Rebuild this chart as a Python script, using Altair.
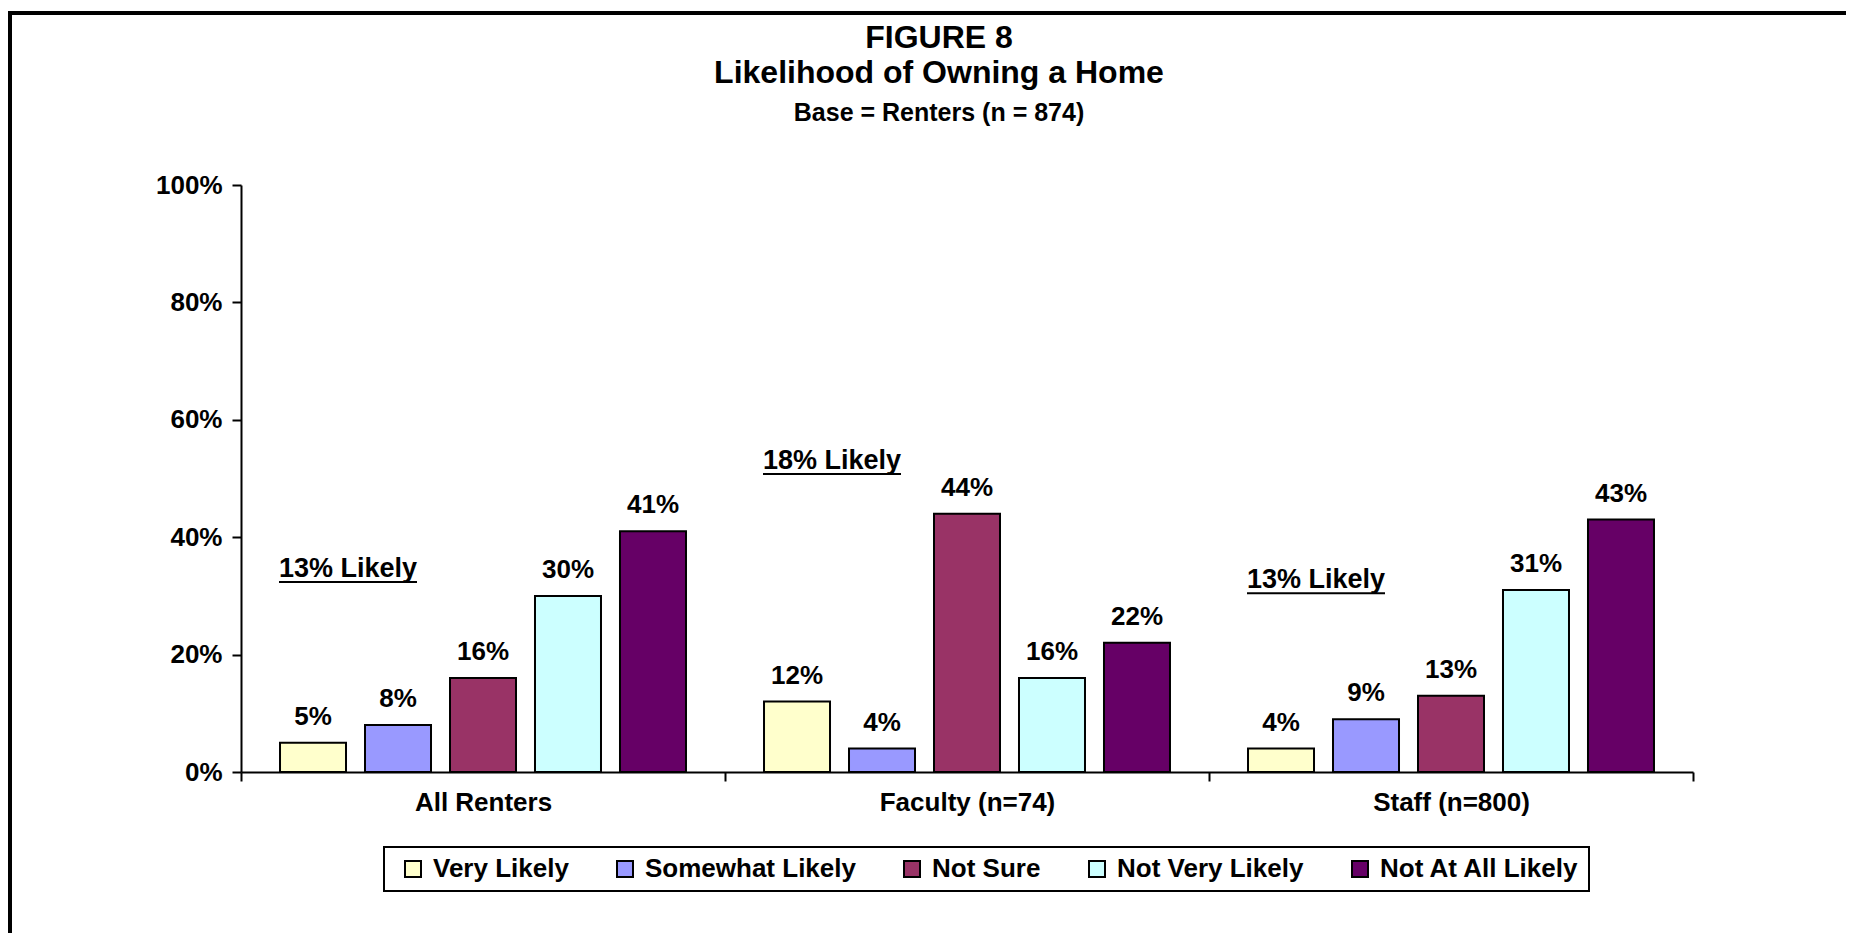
import altair as alt
import pandas as pd

groups = ["All Renters", "Faculty (n=74)", "Staff (n=800)"]
responses = ["Very Likely", "Somewhat Likely", "Not Sure", "Not Very Likely", "Not At All Likely"]
all_renters = [5, 8, 16, 30, 41]
faculty = [12, 4, 44, 16, 22]
staff = [4, 9, 13, 31, 43]
colors = ["#FFFFCC", "#9999FF", "#993366", "#CCFFFF", "#660066"]
likely_text = ["13% Likely", "18% Likely", "13% Likely"]
likely_anchor = [33.2, 51.6, 31.3]

rows = []
for g, vals in zip(groups, [all_renters, faculty, staff]):
    for r, v in zip(responses, vals):
        rows.append({"group": g, "response": r, "value": v, "label": f"{v}%"})
df = pd.DataFrame(rows)
ann = pd.DataFrame({"group": groups, "text": likely_text, "y": likely_anchor})

FONT = "Liberation Sans"
W, H = 1452, 587

x_axis = alt.Axis(title=None, labelAngle=0, tickBand="extent", tickSize=9, tickWidth=2,
                  tickColor="black", domainColor="black", domainWidth=2,
                  labelFontSize=26, labelFont=FONT, labelFontWeight="bold",
                  labelColor="black", labelPadding=8)
y_axis = alt.Axis(title=None, values=[0, 20, 40, 60, 80, 100], labelExpr="datum.value + '%'",
                  grid=False, tickSize=9, tickWidth=2, tickColor="black",
                  domainColor="black", domainWidth=2, labelFontSize=26, labelFont=FONT,
                  labelFontWeight="bold", labelColor="black", labelPadding=10)

x_main = alt.X("group:N", sort=groups, scale=alt.Scale(paddingInner=0, paddingOuter=0), axis=x_axis)
x_plain = alt.X("group:N", sort=groups)
x_off = alt.XOffset("response:N", sort=responses,
                    scale=alt.Scale(paddingInner=0.2235, paddingOuter=0.459))
y_main = alt.Y("value:Q", scale=alt.Scale(domain=[0, 100]), axis=y_axis)

bars = alt.Chart(df).mark_bar(stroke="black", strokeWidth=2).encode(
    x=x_main,
    xOffset=x_off,
    y=y_main,
    color=alt.Color("response:N", sort=responses,
                    scale=alt.Scale(domain=responses, range=colors),
                    legend=alt.Legend(title=None, orient="none", legendX=143, legendY=662,
                                      direction="horizontal", columns=5,
                                      symbolType="square", symbolSize=256,
                                      symbolStrokeColor="black", symbolStrokeWidth=2,
                                      symbolOffset=7, labelFontSize=26, labelFont=FONT,
                                      labelFontWeight="bold", labelColor="black",
                                      labelLimit=400,
                                      labelOffset=7, columnPadding=36, padding=9,
                                      strokeColor="black")),
)

labels = alt.Chart(df).mark_text(dy=-18, baseline="alphabetic", font=FONT, fontSize=26,
                                 fontWeight="bold", color="black").encode(
    x=x_plain, xOffset=alt.XOffset("response:N", sort=responses), y="value:Q", text="label:N"
)

ann_text = alt.Chart(ann).mark_text(align="left", baseline="alphabetic", dx=38, font=FONT,
                                    fontSize=27, fontWeight="bold", color="black").encode(
    x=alt.X("group:N", sort=groups, bandPosition=0), y="y:Q", text="text:N"
)
ann_line = alt.Chart(ann).mark_rule(color="black", strokeWidth=2, xOffset=38, x2Offset=176,
                                    yOffset=5).encode(
    x=alt.X("group:N", sort=groups, bandPosition=0),
    x2=alt.X2("group", bandPosition=0),
    y="y:Q",
)

frame_top = alt.Chart(ann).mark_rule(color="black", strokeWidth=4).encode(
    x=alt.value(-233), x2=alt.value(1605), y=alt.value(-172)
)
frame_left = alt.Chart(ann).mark_rule(color="black", strokeWidth=4).encode(
    x=alt.value(-231), y=alt.value(-174), y2=alt.value(760)
)

chart = alt.layer(frame_top, frame_left, bars, labels, ann_text, ann_line).properties(
    width=W, height=H,
    autosize=alt.AutoSizeParams(type="none"),
    padding={"left": 233, "top": 177, "right": 153, "bottom": 161},
    background="white",
    title=alt.TitleParams(text=["FIGURE 8", "Likelihood of Owning a Home"],
                          subtitle="Base = Renters (n = 874)",
                          anchor="middle", dx=-28, offset=-118,
                          font=FONT, fontSize=32, fontWeight="bold", color="black",
                          lineHeight=35,
                          subtitleFont=FONT, subtitleFontSize=25, subtitleFontWeight="bold",
                          subtitleColor="black", subtitlePadding=11),
).configure_view(strokeWidth=0).configure_legend(strokeWidth=2)

chart.save("out.html", embed_options={"renderer": "svg", "actions": False})
